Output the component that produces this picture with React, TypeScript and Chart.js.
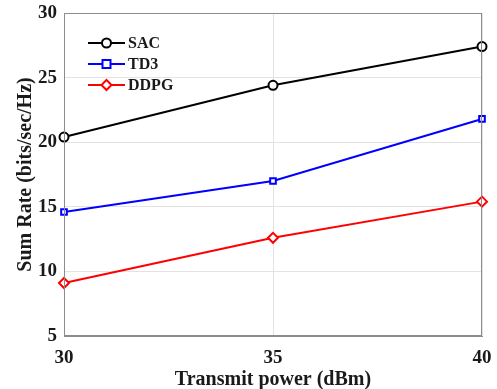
import React, { useEffect, useRef } from "react";
import { Chart, registerables } from "chart.js";

Chart.register(...registerables);

const powers = [30, 35, 40];
const sacValues = [20.4, 24.4, 27.4];
const td3Values = [14.6, 17.0, 21.8];
const ddpgValues = [9.1, 12.6, 15.4];
const seriesNames = ["SAC", "TD3", "DDPG"];
const xTicks = [30, 35, 40];
const yTicks = [5, 10, 15, 20, 25, 30];

const FONT = "'Liberation Serif', 'Times New Roman', serif";

const styles = [
  { color: "#000000", point: "circle", radius: 4.5 },
  { color: "#0000ff", point: "rect", radius: 4 },
  { color: "#ff0000", point: "rectRot", radius: 5 },
];

const boxPlugin = {
  id: "boxPlugin",
  afterDatasetsDraw(chart: any) {
    const { ctx, chartArea } = chart;
    const { left, right, top, bottom } = chartArea;
    ctx.save();
    ctx.strokeStyle = "#8c8c8c";
    ctx.lineWidth = 1;
    ctx.strokeRect(left + 0.5, top + 0.5, right - left - 1, bottom - top - 1);
    // legend
    const rows = [0, 1, 2];
    rows.forEach((i) => {
      const y = top + 30 + i * 21;
      const x0 = left + 24;
      const x1 = left + 61;
      const st = styles[i];
      ctx.strokeStyle = st.color;
      ctx.lineWidth = 2;
      ctx.beginPath();
      ctx.moveTo(x0, y);
      ctx.lineTo(x1, y);
      ctx.stroke();
      const cx = (x0 + x1) / 2;
      ctx.fillStyle = "#ffffff";
      ctx.beginPath();
      if (st.point === "circle") {
        ctx.arc(cx, y, st.radius, 0, Math.PI * 2);
      } else if (st.point === "rect") {
        ctx.rect(cx - st.radius, y - st.radius, st.radius * 2, st.radius * 2);
      } else {
        ctx.moveTo(cx, y - st.radius);
        ctx.lineTo(cx + st.radius, y);
        ctx.lineTo(cx, y + st.radius);
        ctx.lineTo(cx - st.radius, y);
        ctx.closePath();
      }
      ctx.fill();
      ctx.stroke();
      ctx.fillStyle = "#1a1a1a";
      ctx.font = `bold 16px ${FONT}`;
      ctx.textBaseline = "middle";
      ctx.textAlign = "left";
      ctx.fillText(seriesNames[i], x1 + 3, y + 1);
    });
    ctx.restore();
  },
};

export default function App() {
  const ref = useRef<HTMLCanvasElement | null>(null);
  useEffect(() => {
    document.body.style.margin = "0";
    const canvas = ref.current!;
    const allValues = [sacValues, td3Values, ddpgValues];
    const chart = new Chart(canvas, {
      type: "line",
      data: {
        datasets: allValues.map((vals, i) => ({
          label: seriesNames[i],
          data: powers.map((p, j) => ({ x: p, y: vals[j] })),
          borderColor: styles[i].color,
          backgroundColor: "#ffffff",
          borderWidth: 2,
          pointStyle: styles[i].point as any,
          pointRadius: styles[i].radius,
          pointBorderWidth: 2,
          pointBackgroundColor: "#ffffff",
          pointBorderColor: styles[i].color,
          tension: 0,
          clip: false as any,
        })),
      },
      options: {
        animation: false,
        responsive: false,
        layout: { padding: { left: 0, top: 13, right: 15, bottom: 0 } },
        plugins: { legend: { display: false }, tooltip: { enabled: false } },
        scales: {
          x: {
            type: "linear",
            min: 30,
            max: 40,
            afterBuildTicks: (scale: any) => {
              scale.ticks = xTicks.map((v) => ({ value: v }));
            },
            afterFit: (scale: any) => {
              scale.height = 53;
              scale.paddingLeft = 0;
              scale.paddingRight = 0;
            },
            grid: { color: "#e3e3e3", drawTicks: false, lineWidth: 1 },
            border: { display: true, color: "#8c8c8c" },
            ticks: {
              padding: 11,
              color: "#1a1a1a",
              font: { family: FONT, size: 19, weight: "bold" },
              maxRotation: 0,
            },
            title: {
              display: true,
              text: "Transmit power (dBm)",
              color: "#1a1a1a",
              font: { family: FONT, size: 20, weight: "bold", lineHeight: 1 },
              padding: { top: 0, bottom: -1 },
            },
          },
          y: {
            type: "linear",
            min: 5,
            max: 30,
            afterBuildTicks: (scale: any) => {
              scale.ticks = yTicks.map((v) => ({ value: v }));
            },
            afterFit: (scale: any) => {
              scale.width = 64;
              scale.paddingTop = 0;
              scale.paddingBottom = 0;
            },
            grid: { color: "#e3e3e3", drawTicks: false, lineWidth: 1 },
            border: { display: true, color: "#8c8c8c" },
            ticks: {
              padding: 7,
              color: "#1a1a1a",
              font: { family: FONT, size: 19, weight: "bold" },
            },
            title: {
              display: true,
              text: "Sum Rate (bits/sec/Hz)",
              color: "#1a1a1a",
              font: { family: FONT, size: 20, weight: "bold", lineHeight: 1 },
              padding: { top: 16, bottom: 0 },
            },
          },
        },
      },
      plugins: [boxPlugin],
    });
    return () => chart.destroy();
  }, []);
  return <canvas ref={ref} width={497} height={389} style={{ display: "block" }} />;
}
